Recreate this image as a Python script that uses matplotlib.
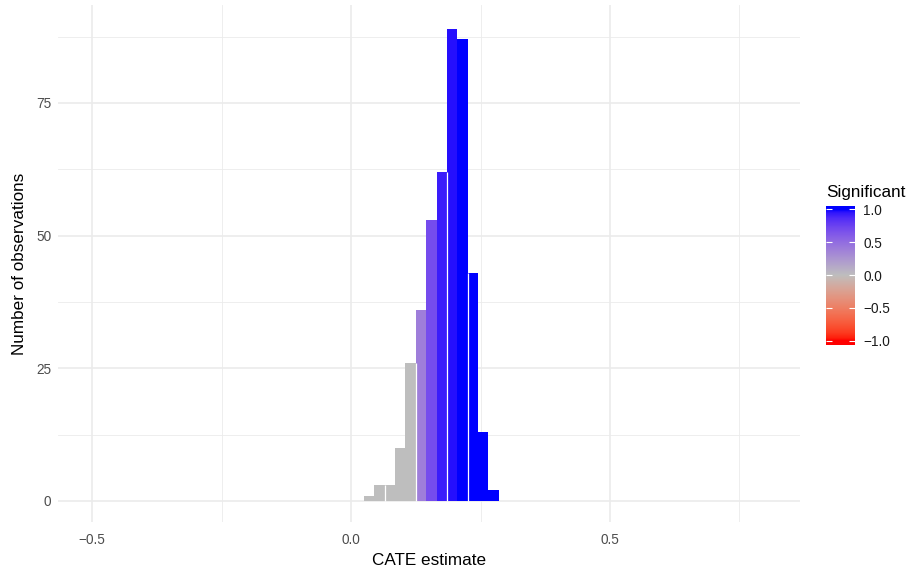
import numpy as np
import matplotlib
matplotlib.use("Agg")
import matplotlib.pyplot as plt
from matplotlib.colors import ListedColormap

plt.rcParams['font.family'] = ['Liberation Sans', 'DejaVu Sans']

# ---- data ----
bin_centers = [0.035, 0.055, 0.075, 0.095, 0.115, 0.135, 0.155,
               0.175, 0.195, 0.215, 0.235, 0.255, 0.275]
counts = [1, 3, 3, 10, 26, 36, 53, 62, 89, 87, 43, 13, 2]
significant = [0.0, 0.0, 0.0, 0.0, 0.0, 0.4, 0.7, 0.93, 0.97, 1.0, 1.0, 1.0, 1.0]
gap_before = [2, 5, 8, 10]  # bars separated by a thin white seam
bin_width = 0.02
x_ticks = [-0.5, 0.0, 0.5]
y_ticks = [0, 25, 50, 75]
cbar_ticks = [-1.0, -0.5, 0.0, 0.5, 1.0]


# ---- Lab-space gradient (red - grey - blue) ----
def srgb_to_lab(rgb):
    rgb = np.asarray(rgb, float)
    lin = np.where(rgb <= 0.04045, rgb / 12.92, ((rgb + 0.055) / 1.055) ** 2.4)
    M = np.array([[0.4124564, 0.3575761, 0.1804375],
                  [0.2126729, 0.7151522, 0.0721750],
                  [0.0193339, 0.1191920, 0.9503041]])
    xyz = M @ lin
    wp = np.array([0.95047, 1.0, 1.08883])
    t = xyz / wp
    f = np.where(t > (6 / 29) ** 3, np.cbrt(t), t / (3 * (6 / 29) ** 2) + 4 / 29)
    return np.array([116 * f[1] - 16, 500 * (f[0] - f[1]), 200 * (f[1] - f[2])])


def lab_to_srgb(lab):
    L, a, b = lab
    fy = (L + 16) / 116
    fx = fy + a / 500
    fz = fy - b / 200
    def finv(f):
        return np.where(f > 6 / 29, f ** 3, 3 * (6 / 29) ** 2 * (f - 4 / 29))
    wp = np.array([0.95047, 1.0, 1.08883])
    xyz = np.array([finv(fx), finv(fy), finv(fz)]) * wp
    Minv = np.array([[3.2404542, -1.5371385, -0.4985314],
                     [-0.9692660, 1.8760108, 0.0415560],
                     [0.0556434, -0.2040259, 1.0572252]])
    lin = Minv @ xyz
    lin = np.clip(lin, 0, 1)
    rgb = np.where(lin <= 0.0031308, 12.92 * lin, 1.055 * lin ** (1 / 2.4) - 0.055)
    return np.clip(rgb, 0, 1)


low = srgb_to_lab([1, 0, 0])
mid = srgb_to_lab([190 / 255] * 3)
high = srgb_to_lab([0, 0, 1])


def grad_color(v):
    v = max(-1.0, min(1.0, v))
    if v < 0:
        lab = mid + (low - mid) * (-v)
    else:
        lab = mid + (high - mid) * v
    return lab_to_srgb(lab)


vals = np.linspace(-1, 1, 256)
cmap = ListedColormap([grad_color(v) for v in vals])

# ---- figure ----
W, H = 913, 573
fig = plt.figure(figsize=(W / 100, H / 100), dpi=100)
ax = fig.add_axes([58 / W, 1 - 522 / H, (800 - 58) / W, (522 - 5) / H])

for s in ax.spines.values():
    s.set_visible(False)

ax.set_xlim(-0.566, 0.867)
ax.set_ylim(-3.96, 93.46)

# grid
for v in [-0.25, 0.25, 0.75]:
    ax.axvline(v, color='#EBEBEB', lw=0.6, zorder=0)
for v in [12.5, 37.5, 62.5, 87.5]:
    ax.axhline(v, color='#EBEBEB', lw=0.6, zorder=0)
for v in x_ticks:
    ax.axvline(v, color='#EBEBEB', lw=1.2, zorder=0)
for v in y_ticks:
    ax.axhline(v, color='#EBEBEB', lw=1.2, zorder=0)

colors = [grad_color(s) for s in significant]
ax.bar(bin_centers, counts, width=bin_width, color=colors, linewidth=0, zorder=2)

for i in gap_before:
    xe = bin_centers[i] - bin_width / 2
    ax.vlines(xe, 0, min(counts[i - 1], counts[i]), color='white', lw=0.9, zorder=3)

ax.set_xticks(x_ticks)
ax.set_xticklabels(['\u22120.5', '0.0', '0.5'])
ax.set_yticks(y_ticks)
ax.set_yticklabels([str(v) for v in y_ticks])
ax.tick_params(axis='x', length=0, labelsize=9.8, colors='#4D4D4D', pad=8)
ax.tick_params(axis='y', length=0, labelsize=9.8, colors='#4D4D4D', pad=5)
ax.set_xlabel('CATE estimate', fontsize=12.3, color='black', labelpad=4)
ax.set_ylabel('Number of observations', fontsize=12.3, color='black', labelpad=6)

# ---- colorbar legend ----
cax = fig.add_axes([826 / W, 1 - 345 / H, 29 / W, (345 - 206) / H])
grad = np.linspace(-1.065, 1.05, 300).reshape(-1, 1)
cax.imshow(grad, aspect='auto', cmap=cmap, vmin=-1, vmax=1,
           extent=[0, 1, -1.065, 1.05], origin='lower')
cax.set_xlim(0, 1)
cax.set_ylim(-1.065, 1.05)
cax.set_xticks([])
cax.set_yticks(cbar_ticks)
cax.set_yticklabels(['\u22121.0', '\u22120.5', '0.0', '0.5', '1.0'])
cax.tick_params(axis='y', direction='in', color='white', left=True, right=True,
                labelleft=False, labelright=True, length=4, width=0.8,
                labelsize=9.8, labelcolor='#1A1A1A', pad=6)
for s in cax.spines.values():
    s.set_visible(False)
fig.text(826 / W, 1 - 193 / H, 'Significant', fontsize=12.3, color='black',
         ha='left', va='center')

fig.savefig('out.png', dpi=100)
